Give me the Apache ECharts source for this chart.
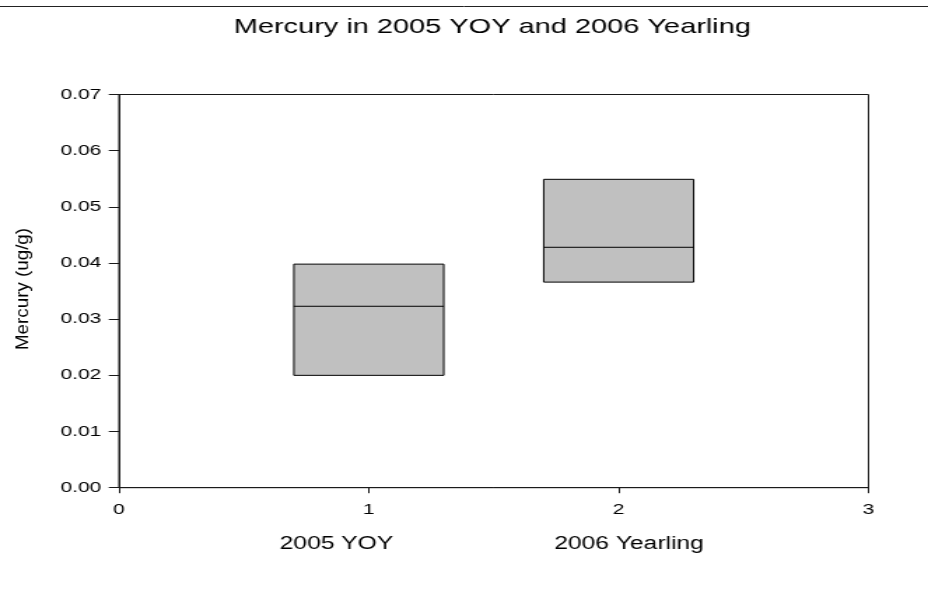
<!DOCTYPE html>
<html>
<head>
<meta charset="utf-8">
<script src="https://cdn.jsdelivr.net/npm/echarts@6/dist/echarts.min.js"></script>
<style>
  html, body { margin: 0; padding: 0; background: #fff; overflow: hidden; }
  /* The chart is laid out in a narrower frame and widened horizontally,
     giving the broad lettering and heavier vertical strokes of the figure. */
  #chart {
    width: 663px;
    height: 596px;
    transform: scaleX(1.39970);
    transform-origin: 0 0;
  }
</style>
</head>
<body>
<div id="chart"></div>
<script>
// Groups and their positions on the numeric x axis
const groupNames = ['2005 YOY', '2006 Yearling'];
const groupPositions = [1, 2];

// Box statistics, mercury in ug/g
const lowerQuartile = [0.0200, 0.0366];
const medianValue   = [0.0323, 0.0428];
const upperQuartile = [0.0398, 0.0549];

// Axis ticks
const yTicks = [0, 0.01, 0.02, 0.03, 0.04, 0.05, 0.06, 0.07];
const xTicks = [0, 1, 2, 3];

const STRETCH = 928 / 663;
const BOX_HALF_WIDTH = 0.3;
const FONT = '"Liberation Sans", Arial, sans-serif';

const boxData = groupPositions.map((x, i) => [x, lowerQuartile[i], medianValue[i], upperQuartile[i]]);

const chart = echarts.init(document.getElementById('chart'), null, { renderer: 'canvas' });

function renderBox(params, api) {
  const x = api.value(0);
  const lo = api.value(1), med = api.value(2), hi = api.value(3);
  const pLo = api.coord([x - BOX_HALF_WIDTH, lo]);
  const pHi = api.coord([x + BOX_HALF_WIDTH, hi]);
  const pMed = api.coord([x, med]);
  return {
    type: 'group',
    children: [
      {
        type: 'rect',
        shape: { x: pLo[0], y: pHi[1], width: pHi[0] - pLo[0], height: pLo[1] - pHi[1] },
        style: { fill: '#c0c0c0', stroke: '#000', lineWidth: 1 }
      },
      {
        type: 'line',
        shape: { x1: pLo[0], y1: pMed[1], x2: pHi[0], y2: pMed[1] },
        style: { stroke: '#000', lineWidth: 1 }
      }
    ]
  };
}

const axisLineStyle = { color: '#1a1a1a', width: 1 };

chart.setOption({
  animation: false,
  backgroundColor: '#fff',
  grid: {
    left: 85, right: 42.5, top: 94.5, bottom: 108.3,
    show: true, borderColor: '#1a1a1a', borderWidth: 1, backgroundColor: 'transparent'
  },
  xAxis: {
    type: 'value',
    min: xTicks[0], max: xTicks[xTicks.length - 1], interval: 1,
    axisLine: { show: true, onZero: false, lineStyle: axisLineStyle },
    axisTick: { show: true, inside: false, length: 5.5, lineStyle: axisLineStyle },
    splitLine: { show: false },
    axisLabel: {
      margin: 14.6, color: '#000', fontSize: 15, fontFamily: FONT,
      formatter: v => String(v)
    }
  },
  yAxis: {
    type: 'value',
    min: yTicks[0], max: yTicks[yTicks.length - 1], interval: 0.01,
    axisLine: { show: true, onZero: false, lineStyle: axisLineStyle },
    axisTick: { show: true, inside: false, length: 7.3, lineStyle: axisLineStyle },
    splitLine: { show: false },
    axisLabel: {
      margin: 12.6, color: '#000', fontSize: 15, fontFamily: FONT,
      formatter: v => v.toFixed(2)
    }
  },
  series: [{
    type: 'custom',
    name: 'Mercury',
    renderItem: renderBox,
    encode: { x: 0, y: [1, 2, 3] },
    data: boxData
  }],
  graphic: [
    {
      type: 'line',
      shape: { x1: 0, y1: 6.5, x2: 663, y2: 6.5 },
      style: { stroke: '#222', lineWidth: 1 }
    },
    {
      type: 'text',
      x: 351.7, y: 27.7,
      style: {
        text: 'Mercury in 2005 YOY and 2006 Yearling',
        fill: '#000', font: '20.7px ' + FONT,
        align: 'center', verticalAlign: 'middle'
      }
    },
    {
      type: 'text',
      x: 240.4, y: 544.6,
      style: {
        text: groupNames[0], fill: '#000', font: '17.6px ' + FONT,
        align: 'center', verticalAlign: 'middle'
      }
    },
    {
      type: 'text',
      x: 449.4, y: 544.6,
      style: {
        text: groupNames[1], fill: '#000', font: '17.6px ' + FONT,
        align: 'center', verticalAlign: 'middle'
      }
    },
    {
      // Vertical axis title; its glyph height is narrowed so the horizontal widening leaves it upright-proportioned
      type: 'text',
      x: 16.7, y: 289,
      rotation: Math.PI / 2,
      scaleY: 1 / STRETCH,
      style: {
        text: 'Mercury (ug/g)', fill: '#000', font: '18.8px ' + FONT,
        align: 'center', verticalAlign: 'middle'
      }
    }
  ]
});
</script>
</body>
</html>
